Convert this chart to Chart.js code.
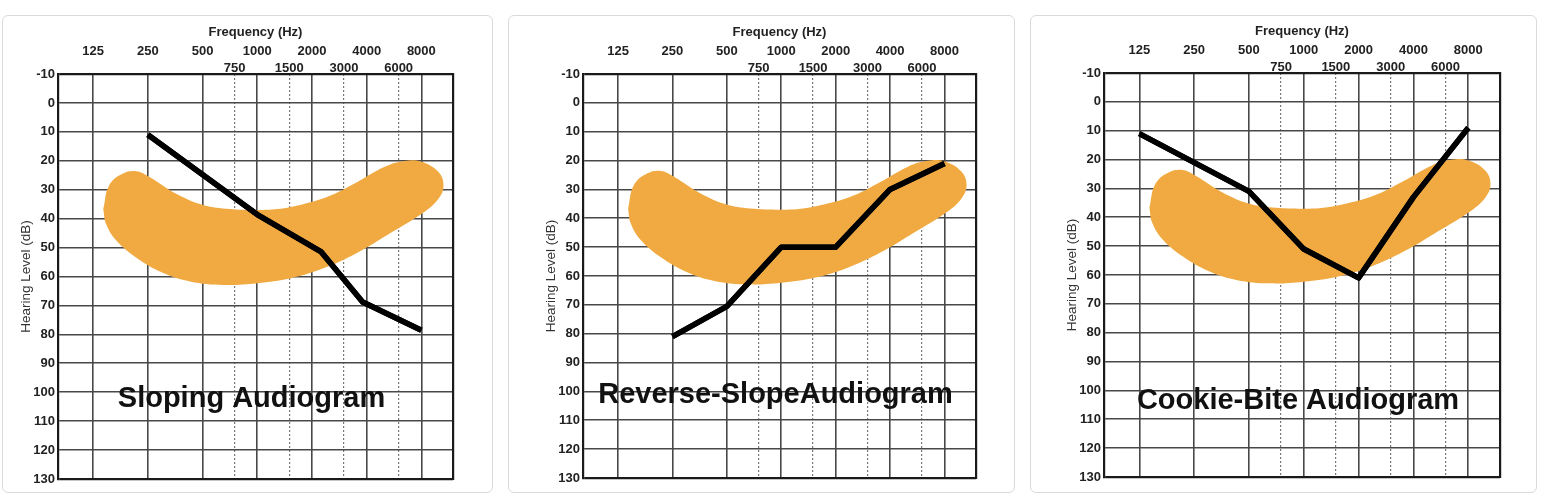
<!DOCTYPE html>
<html>
<head>
<meta charset="utf-8">
<script src="https://cdn.jsdelivr.net/npm/chart.js@4.4.0/dist/chart.umd.min.js"></script>
<style>
  html, body { margin: 0; padding: 0; background: #ffffff; width: 1568px; height: 498px; overflow: hidden; }
  .card { position: absolute; top: 15px; height: 478px; border: 1px solid #dadada; border-radius: 6px; box-sizing: border-box; background: #fff; }
  canvas { position: absolute; top: 15px; }
</style>
</head>
<body>
<div class="card" style="left:2px;width:491px"></div>
<div class="card" style="left:508px;width:507px"></div>
<div class="card" style="left:1030px;width:507px"></div>
<canvas id="p1" width="491" height="478" style="left:2px;width:491px;height:478px"></canvas>
<canvas id="p2" width="507" height="478" style="left:508px;width:507px;height:478px"></canvas>
<canvas id="p3" width="507" height="478" style="left:1030px;width:507px;height:478px"></canvas>
<script>
// ---- data ----
const octaveFrequencies = [125, 250, 500, 1000, 2000, 4000, 8000];
const midFrequencies = [750, 1500, 3000, 6000];
const levelMin = -10;
const levelMax = 130;
const levelStep = 10;
const freqMin = 80;
const freqMax = 11950;

// speech banana outline (Hz, dB HL), traced clockwise
const bananaFreq = [142, 153, 182, 216, 255, 358, 503, 707, 1000, 1284, 1803, 2532, 3555, 5028, 6454, 8000, 9918, 10600,
                    9918, 8000, 5464, 3555, 2330, 1526, 1000, 651, 426, 304, 216, 167, 147, 142];
const bananaLevel = [36.7, 28.5, 24.4, 23.6, 25.6, 31.4, 35.3, 36.7, 37, 36.7, 34.9, 32, 27.3, 22.1, 20.1, 20.3, 23.8, 28.5,
                     33.2, 38.4, 44.8, 51.8, 57.1, 60.6, 62.3, 62.9, 61.7, 58.8, 53.5, 47.5, 41.8, 36.7];

const slopingFreq = [250, 1000, 2250, 3800, 8000];
const slopingLevel = [11, 38.6, 51.5, 68.8, 78.6];

const reverseFreq = [250, 500, 1000, 2000, 4000, 8000];
const reverseLevel = [81, 70.5, 50, 50, 30, 21];

const cookieFreq = [125, 500, 1000, 2000, 4000, 8000];
const cookieLevel = [11, 31, 51, 61, 33, 9];

const panelTitles = ['Sloping Audiogram', 'Reverse-SlopeAudiogram', 'Cookie-Bite Audiogram'];
const titleLevels = [105, 104, 106.5];

// ---- styles ----
const FONT = '"Liberation Sans", Arial, Helvetica, sans-serif';
const GRID = '#484848';
const FRAME = '#1a1a1a';
const BANANA = '#F0AA41';

const toPoints = (fs, ls) => fs.map((f, i) => ({x: f, y: ls[i]}));

const panelLabel = {
  id: 'panelLabel',
  afterDraw(chart, args, opts) {
    // redraw the audiogram line above the grid
    const meta = chart.getDatasetMeta(0);
    meta.controller.draw();
    const {ctx, chartArea, scales} = chart;
    ctx.save();
    ctx.font = 'bold 29px ' + FONT;
    ctx.fillStyle = '#111';
    ctx.textAlign = 'center';
    ctx.textBaseline = 'alphabetic';
    const x = (chartArea.left + chartArea.right) / 2 - 4;
    const y = scales.y.getPixelForValue(opts.level);
    ctx.fillText(opts.text, x, y);
    ctx.restore();
  }
};

function makeChart(id, freqs, levels, title, level, pad) {
  const tickFont = {family: FONT, size: 13, weight: 'bold'};
  const isEdge = (c) => c.tick && (c.tick.value === levelMin || c.tick.value === levelMax);
  return new Chart(document.getElementById(id), {
    type: 'line',
    data: {
      datasets: [
        {
          data: toPoints(freqs, levels),
          xAxisID: 'x', yAxisID: 'y',
          borderColor: '#000', borderWidth: 5.5, pointRadius: 0, tension: 0,
          borderJoinStyle: 'round', borderCapStyle: 'butt', fill: false, order: 0
        },
        {
          data: toPoints(bananaFreq, bananaLevel),
          xAxisID: 'x', yAxisID: 'y',
          borderWidth: 0, borderColor: BANANA, backgroundColor: BANANA,
          pointRadius: 0, tension: 0.4, fill: 'shape', order: 1
        }
      ]
    },
    options: {
      responsive: false,
      animation: false,
      devicePixelRatio: window.devicePixelRatio || 1,
      layout: {padding: pad},
      plugins: {
        legend: {display: false},
        tooltip: {enabled: false},
        panelLabel: {text: title, level: level}
      },
      scales: {
        x: {
          type: 'logarithmic', position: 'top', min: freqMin, max: freqMax, weight: 1, z: 1,
          afterBuildTicks: (s) => { s.ticks = octaveFrequencies.map(v => ({value: v})); },
          afterFit: (s) => { s.height = 34; },
          ticks: {autoSkip: false, maxRotation: 0, padding: 0, font: tickFont, color: '#222',
                  callback: (v) => String(v)},
          grid: {color: GRID, lineWidth: 1.6, drawTicks: false},
          border: {display: false},
          title: {display: true, text: 'Frequency (Hz)', font: tickFont, color: '#222', padding: {top: 0, bottom: 0}}
        },
        xMid: {
          type: 'logarithmic', position: 'top', min: freqMin, max: freqMax, weight: 0, z: 1,
          afterBuildTicks: (s) => { s.ticks = midFrequencies.map(v => ({value: v})); },
          afterFit: (s) => { s.height = 15; },
          ticks: {autoSkip: false, maxRotation: 0, padding: -2, font: tickFont, color: '#222',
                  callback: (v) => String(v)},
          grid: {color: '#777', lineWidth: 1.2, drawTicks: false},
          border: {display: false, dash: [2, 2]}
        },
        y: {
          type: 'linear', position: 'left', reverse: true, min: levelMin, max: levelMax, z: 1,
          afterFit: (s) => { s.width = 40; },
          ticks: {stepSize: levelStep, padding: 3, font: tickFont, color: '#222'},
          grid: {
            color: (c) => isEdge(c) ? FRAME : GRID,
            lineWidth: (c) => isEdge(c) ? 2.2 : 1.6,
            drawTicks: false
          },
          border: {display: true, color: FRAME, width: 2.2},
          title: {display: true, text: 'Hearing Level (dB)', font: {family: FONT, size: 13.5}, color: '#333', padding: 0}
        },
        yR: {
          type: 'linear', position: 'right', reverse: true, min: levelMin, max: levelMax, z: 1,
          afterFit: (s) => { s.width = 0; },
          ticks: {display: false},
          grid: {drawOnChartArea: false, drawTicks: false},
          border: {display: true, color: FRAME, width: 2.2}
        }
      }
    },
    plugins: [panelLabel]
  });
}

makeChart('p1', slopingFreq, slopingLevel, panelTitles[0], titleLevels[0], {left: 16, right: 40, top: 10, bottom: 14});
makeChart('p2', reverseFreq, reverseLevel, panelTitles[1], titleLevels[1], {left: 35, right: 39, top: 10, bottom: 15});
makeChart('p3', cookieFreq, cookieLevel, panelTitles[2], titleLevels[2], {left: 34, right: 37, top: 9, bottom: 16});
</script>
</body>
</html>
